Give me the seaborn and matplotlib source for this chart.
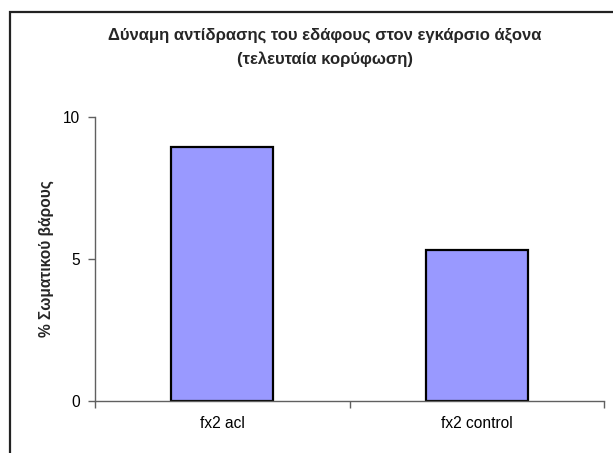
import matplotlib
matplotlib.use("Agg")
import matplotlib.pyplot as plt
from matplotlib.patches import Rectangle
import seaborn as sns
import pandas as pd

categories = ["fx2 acl", "fx2 control"]
values = [8.95, 5.32]
y_ticks = [0, 5, 10]
title = "Δύναμη αντίδρασης του εδάφους στον εγκάρσιο άξονα\n(τελευταία κορύφωση)"
y_label = "% Σωματικού βάρους"

sns.set_theme(style="white")
plt.rcParams["font.family"] = ["Liberation Sans", "DejaVu Sans"]

df = pd.DataFrame({"cat": categories, "val": values})

W, H = 613, 453
fig = plt.figure(figsize=(W / 100, H / 100), dpi=100)
fig.patch.set_facecolor("white")

left, right, bottom, top = 95, 604, 401, 117
ax = fig.add_axes([left / W, 1 - bottom / H, (right - left) / W, (bottom - top) / H])

sns.barplot(data=df, x="cat", y="val", ax=ax, color="#9999FF", saturation=1,
            width=0.4, edgecolor="black", linewidth=1.6, errorbar=None)

fs = 11.2
ax.set_xlim(-0.5, len(categories) - 0.5)
ax.set_ylim(0, 10)
ax.set_yticks(y_ticks)
ax.set_yticklabels([str(t) for t in y_ticks], fontsize=fs, color="black")

# category boundary ticks on the x axis
ax.set_xticks(range(len(categories)))
ax.set_xticklabels(categories, fontsize=fs, color="black")
ax.set_xticks([i - 0.5 for i in range(len(categories) + 1)], minor=True)
ax.tick_params(axis="x", which="major", length=0, pad=11)
ax.tick_params(axis="x", which="minor", length=5, width=1, color="#606060", direction="out", bottom=True)
ax.tick_params(axis="y", which="major", length=5, width=1, color="#606060", direction="out", left=True, pad=6)

for s in ["top", "right"]:
    ax.spines[s].set_visible(False)
for s in ["left", "bottom"]:
    ax.spines[s].set_color("#606060")
    ax.spines[s].set_linewidth(1.0)

ax.set_xlabel("")
ax.set_ylabel(y_label, fontsize=fs, fontweight="bold", labelpad=6)
ax.set_facecolor("white")

fig.text(325 / W, 1 - 47.5 / H, title, ha="center", va="center", fontsize=12,
         fontweight="bold", linespacing=1.63)

# chart area frame
fig.patches.append(Rectangle((10 / W, -0.1), 1.2, 1.1 - 12 / H, transform=fig.transFigure,
                             fill=False, edgecolor="#222222", linewidth=1.6))

fig.savefig("out.png", dpi=100)
